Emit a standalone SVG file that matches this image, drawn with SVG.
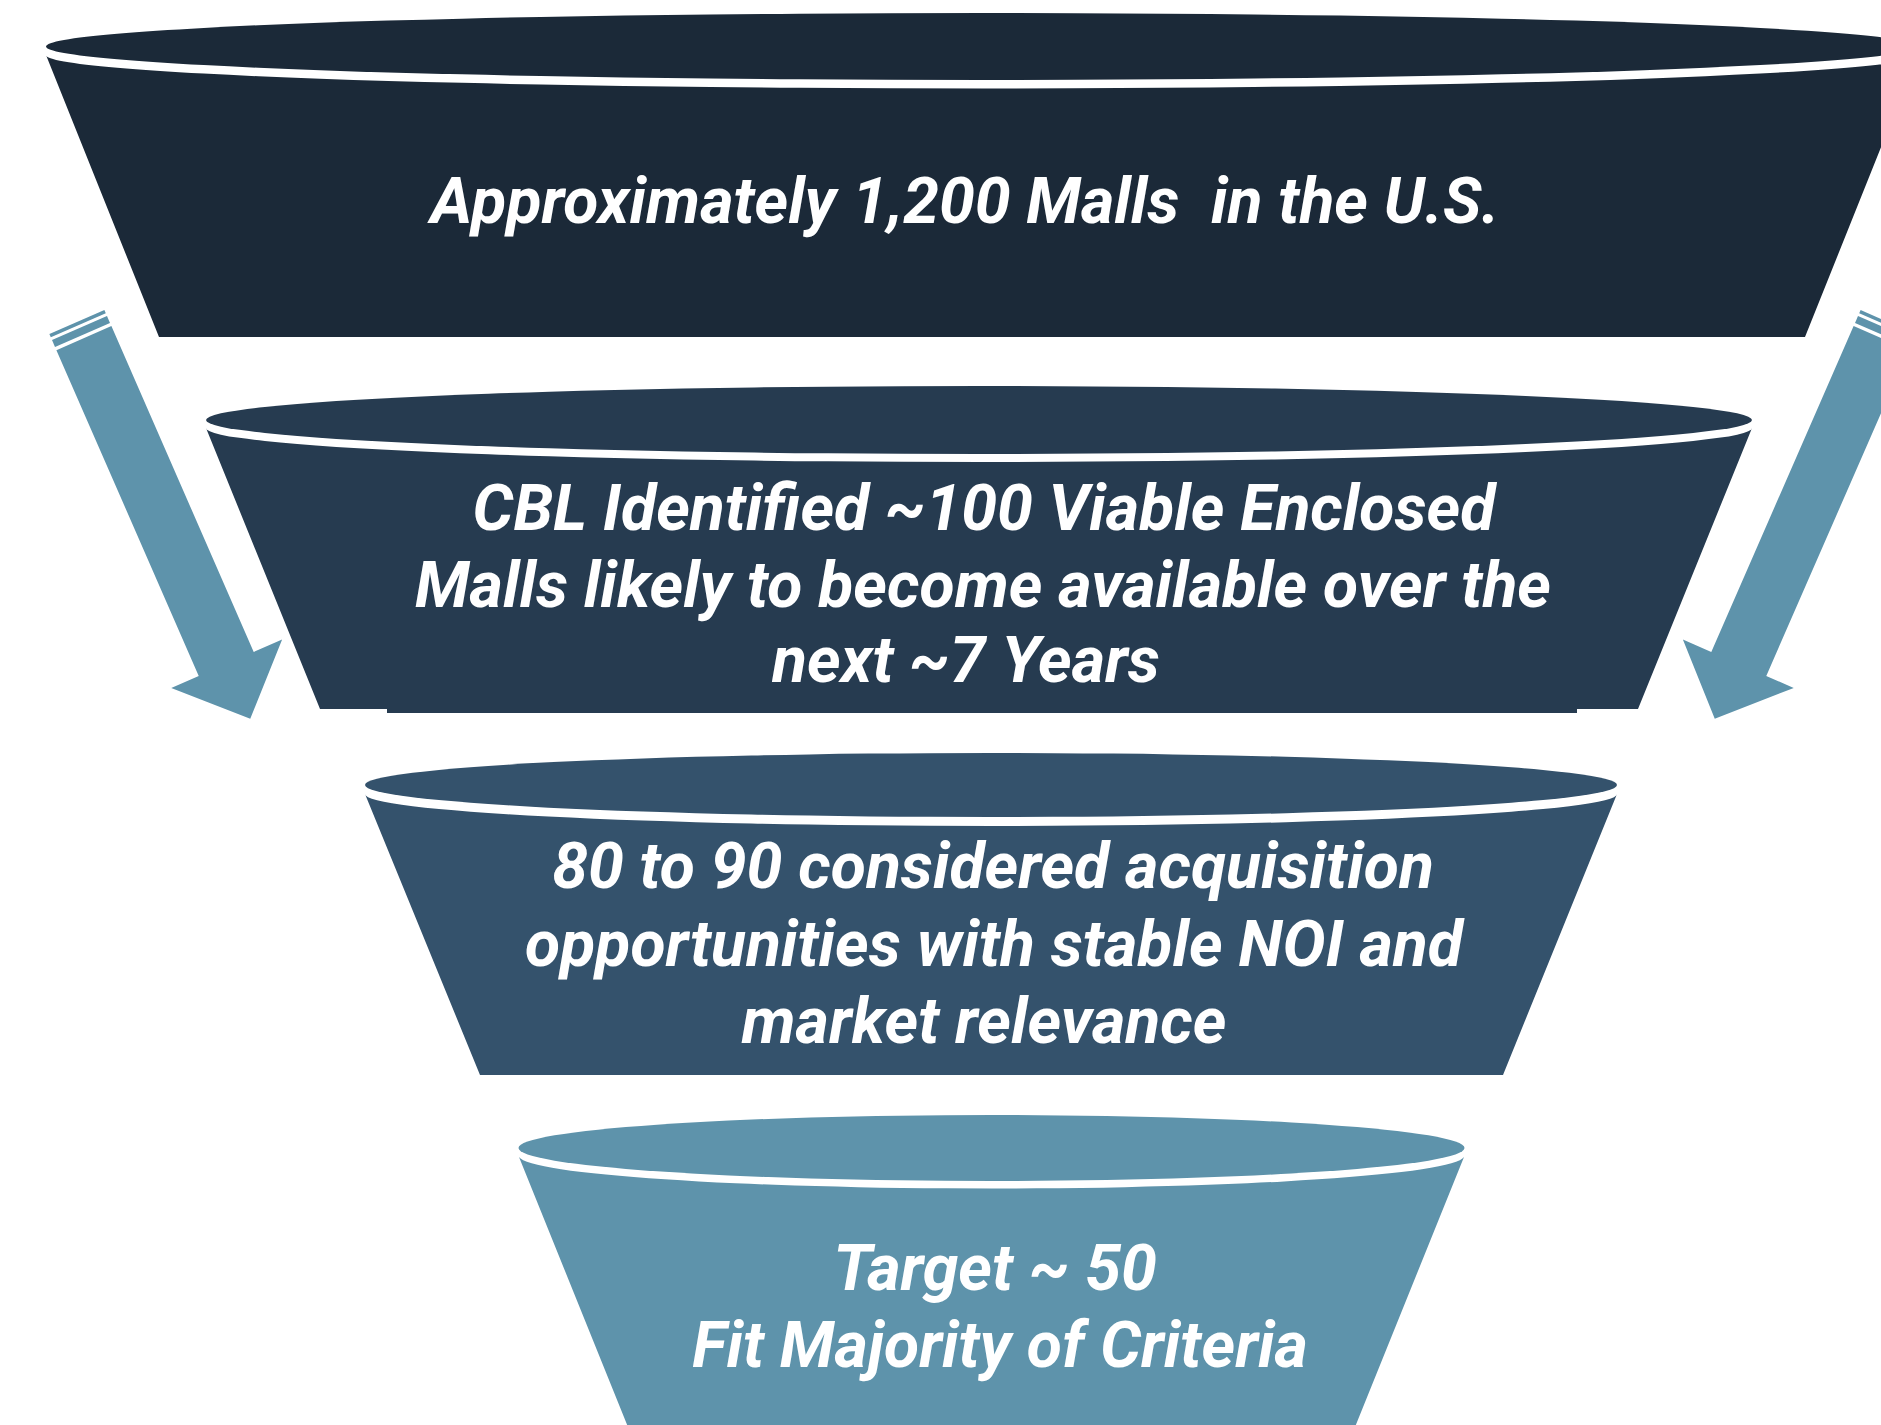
<svg xmlns="http://www.w3.org/2000/svg" width="1881" height="1425" viewBox="0 0 1881 1425">
  <style>
    .label { font-family: Roboto, "Liberation Sans", sans-serif; font-weight: 700; font-style: italic; font-size: 64.3px; fill: #ffffff; text-anchor: middle; }
    .t1 { fill: #1b2938; }
    .t2 { fill: #263b50; }
    .t3 { fill: #34526c; }
    .t4 { fill: #5e93ab; }
    .arrow { fill: #5e93ab; }
  </style>
  <defs>
    <!-- down-pointing block arrow with two cut stripes at its tail, drawn along +y -->
    <g id="flow-arrow">
      <rect x="-30" y="-19" width="60" height="3.5"/>
      <rect x="-30" y="-12.5" width="60" height="7.5"/>
      <polygon points="-30,-1.5 30,-1.5 30,354 61,354 0,414 -60,354 -30,354"/>
    </g>
  </defs>

  <rect width="1881" height="1425" fill="#ffffff"/>

  <!-- funnel tier 1 -->
  <g id="tier-1">
    <path class="t1" d="M46,55 A936,33.5 0 0 0 1918,55 L1805,337 L159,337 Z"/>
    <ellipse class="t1" cx="982" cy="46.5" rx="936" ry="33.5"/>
    <text class="label" x="965" y="223" xml:space="preserve">Approximately 1,200 Malls  in the U.S.</text>
  </g>

  <!-- funnel tier 2 -->
  <g id="tier-2">
    <path class="t2" d="M206,428 A773,34 0 0 0 1752,428 L1638,709 L320,709 Z"/>
    <rect class="t2" x="387" y="700" width="1190" height="13"/>
    <ellipse class="t2" cx="979" cy="420" rx="773" ry="34"/>
    <text class="label" x="984" y="530">CBL Identified ~100 Viable Enclosed</text>
    <text class="label" x="983" y="607">Malls likely to become available over the</text>
    <text class="label" x="966" y="682">next ~7 Years</text>
  </g>

  <!-- funnel tier 3 -->
  <g id="tier-3">
    <path class="t3" d="M365,794 A626,32 0 0 0 1617,794 L1503,1075 L480,1075 Z"/>
    <ellipse class="t3" cx="991" cy="785" rx="626" ry="32"/>
    <text class="label" x="993" y="888">80 to 90 considered acquisition</text>
    <text class="label" x="994" y="966">opportunities with stable NOI and</text>
    <text class="label" x="984" y="1043">market relevance</text>
  </g>

  <!-- funnel tier 4 -->
  <g id="tier-4">
    <path class="t4" d="M519,1157 A473,33 0 0 0 1464,1157 L1353,1432 L630,1432 Z"/>
    <ellipse class="t4" cx="991.5" cy="1148" rx="473" ry="33"/>
    <text class="label" x="995" y="1290">Target ~ 50</text>
    <text class="label" x="1000" y="1367">Fit Majority of Criteria</text>
  </g>

  <!-- side arrows -->
  <g id="connectors" class="arrow">
    <use href="#flow-arrow" transform="translate(84.5,339.5) rotate(-23.6)"/>
    <use href="#flow-arrow" transform="translate(1965,0) scale(-1,1) translate(84.5,339.5) rotate(-23.6)"/>
  </g>
</svg>
